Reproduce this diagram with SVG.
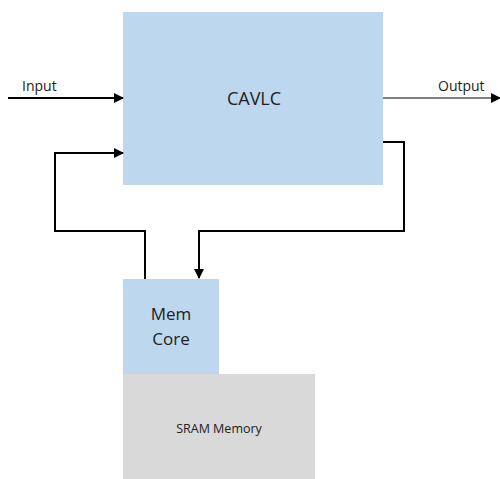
<svg xmlns="http://www.w3.org/2000/svg" width="500" height="479" viewBox="0 0 500 479">
<defs>
<style>
.t{font-family:"Open Sans","Liberation Sans",sans-serif;fill:#222}
.c{fill:none;stroke:#000;stroke-width:2}
</style>
<marker id="ah" markerWidth="10" markerHeight="10" refX="9" refY="5" orient="auto" markerUnits="userSpaceOnUse">
<path d="M0,0 L10,5 L0,10 Z" fill="#000"/>
</marker>
</defs>
<rect width="500" height="479" fill="#fff"/>
<g id="cavlc">
<rect x="123" y="12" width="260" height="173" fill="#bdd7ee"/>
<text class="t" x="254" y="105" font-size="18" text-anchor="middle">CAVLC</text>
</g>
<g id="memcore">
<rect x="123" y="279" width="96" height="95" fill="#bdd7ee"/>
<text class="t" x="171" y="320" font-size="17" text-anchor="middle">Mem</text>
<text class="t" x="171" y="345" font-size="17" text-anchor="middle">Core</text>
</g>
<g id="sram">
<rect x="123" y="374" width="192" height="105" fill="#d9d9d9"/>
<text class="t" x="219" y="433" font-size="12.5" text-anchor="middle">SRAM Memory</text>
</g>
<g id="connectors">
<line class="c" x1="8" y1="98" x2="123" y2="98" marker-end="url(#ah)"/>
<line x1="383" y1="98" x2="500" y2="98" stroke="#000" stroke-width="1.2" marker-end="url(#ah)"/>
<polyline class="c" points="383,142 404,142 404,231 199,231 199,278" marker-end="url(#ah)"/>
<polyline class="c" points="145,279 145,231 55,231 55,153 123,153" marker-end="url(#ah)"/>
<text class="t" x="22" y="91" font-size="14">Input</text>
<text class="t" x="438" y="91" font-size="14">Output</text>
</g>
</svg>
